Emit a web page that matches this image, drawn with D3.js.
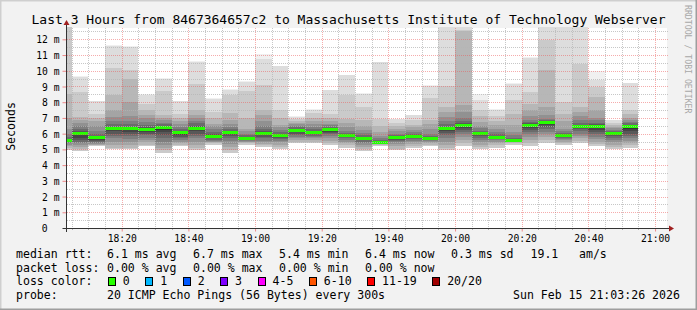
<!DOCTYPE html>
<html>
<head>
<meta charset="utf-8">
<script src="https://cdn.jsdelivr.net/npm/d3@7"></script>
<style>
  body { margin: 0; background: #f2f2f2; }
  svg { display: block; font-family: 'DejaVu Sans Mono', monospace; }
</style>
</head>
<body>
<svg id="chart" width="697" height="310"></svg>
<script>
// 5 minute slots (start time, UTC) and the 20 sorted ping rtts (ms) of each slot
const slotStart = [
  '18:00', '18:05', '18:10', '18:15', '18:20', '18:25', '18:30', '18:35', '18:40', '18:45', '18:50', '18:55',
  '19:00', '19:05', '19:10', '19:15', '19:20', '19:25', '19:30', '19:35', '19:40', '19:45', '19:50', '19:55',
  '20:00', '20:05', '20:10', '20:15', '20:20', '20:25', '20:30', '20:35', '20:40', '20:45', '20:50'
];
const pings = [
  [4.95, 5.1, 5.2, 5.3, 5.4, 5.45, 5.5, 5.52, 5.55, 5.57, 5.58, 5.65, 5.8, 6.0, 6.3, 7.0, 8.5, 13.0, 13.5, 14.0],
  [4.87, 5.0, 5.15, 5.3, 5.4, 5.5, 5.6, 5.75, 5.9, 6.0, 6.08, 6.15, 6.3, 6.5, 6.7, 6.9, 7.06, 8.65, 9.6, 9.65],
  [5.2, 5.25, 5.3, 5.35, 5.4, 5.45, 5.55, 5.62, 5.68, 5.72, 5.76, 5.85, 6.0, 6.2, 6.5, 6.8, 7.0, 7.23, 8.05, 8.1],
  [5.0, 5.1, 5.3, 5.5, 5.7, 5.85, 6.0, 6.15, 6.25, 6.3, 6.34, 6.45, 6.6, 6.8, 7.06, 7.48, 8.48, 10.18, 11.6, 11.65],
  [5.0, 5.1, 5.25, 5.45, 5.65, 5.85, 6.0, 6.12, 6.22, 6.3, 6.34, 6.45, 6.6, 6.8, 7.1, 8.0, 9.48, 10.03, 11.5, 11.55],
  [5.2, 5.3, 5.45, 5.6, 5.75, 5.9, 6.0, 6.1, 6.18, 6.23, 6.27, 6.4, 6.55, 6.75, 7.0, 7.2, 7.48, 7.9, 8.48, 8.52],
  [4.8, 4.95, 5.1, 5.3, 5.5, 5.7, 5.9, 6.1, 6.25, 6.38, 6.42, 6.5, 6.6, 6.7, 6.85, 7.0, 7.16, 8.7, 9.5, 9.55],
  [5.2, 5.3, 5.4, 5.5, 5.6, 5.7, 5.8, 5.9, 6.0, 6.05, 6.1, 6.2, 6.3, 6.45, 6.6, 6.8, 7.0, 7.27, 8.05, 8.1],
  [4.95, 5.1, 5.3, 5.5, 5.7, 5.85, 6.0, 6.15, 6.25, 6.32, 6.36, 6.5, 6.65, 6.8, 7.0, 7.16, 7.52, 9.18, 10.56, 10.6],
  [5.3, 5.4, 5.45, 5.5, 5.55, 5.62, 5.7, 5.75, 5.8, 5.83, 5.85, 5.95, 6.1, 6.3, 6.5, 6.63, 7.0, 7.38, 8.22, 8.25],
  [4.75, 4.95, 5.15, 5.35, 5.55, 5.7, 5.85, 5.95, 6.02, 6.06, 6.1, 6.2, 6.3, 6.45, 6.6, 6.85, 7.3, 8.44, 8.8, 8.85],
  [5.3, 5.4, 5.45, 5.5, 5.55, 5.6, 5.63, 5.66, 5.68, 5.69, 5.71, 5.8, 5.9, 6.0, 6.15, 6.32, 7.0, 8.69, 9.31, 9.35],
  [5.15, 5.25, 5.35, 5.45, 5.55, 5.7, 5.8, 5.9, 5.97, 6.02, 6.06, 6.15, 6.3, 6.5, 6.8, 7.16, 7.52, 9.1, 10.77, 11.04],
  [5.0, 5.15, 5.3, 5.45, 5.55, 5.65, 5.72, 5.78, 5.83, 5.86, 5.9, 6.0, 6.1, 6.25, 6.4, 6.53, 7.0, 7.52, 10.28, 10.3],
  [5.4, 5.5, 5.6, 5.7, 5.8, 5.9, 6.0, 6.08, 6.15, 6.2, 6.23, 6.3, 6.4, 6.5, 6.6, 6.7, 6.8, 6.95, 7.06, 7.1],
  [5.4, 5.5, 5.6, 5.7, 5.8, 5.88, 5.95, 6.0, 6.04, 6.07, 6.1, 6.2, 6.3, 6.45, 6.6, 6.8, 7.02, 7.3, 7.52, 7.55],
  [5.3, 5.4, 5.55, 5.7, 5.85, 5.95, 6.05, 6.12, 6.2, 6.24, 6.27, 6.35, 6.45, 6.55, 6.63, 6.8, 7.0, 7.27, 8.76, 8.8],
  [5.1, 5.25, 5.4, 5.5, 5.6, 5.7, 5.77, 5.82, 5.85, 5.87, 5.89, 5.95, 6.05, 6.2, 6.4, 6.7, 6.95, 8.44, 9.71, 9.75],
  [4.87, 5.0, 5.15, 5.3, 5.4, 5.5, 5.58, 5.63, 5.67, 5.69, 5.71, 5.8, 5.9, 6.05, 6.25, 6.5, 6.9, 7.7, 8.54, 8.58],
  [5.2, 5.28, 5.33, 5.38, 5.41, 5.43, 5.44, 5.45, 5.46, 5.47, 5.48, 5.52, 5.6, 5.7, 5.85, 6.1, 6.5, 6.95, 10.54, 10.58],
  [4.93, 5.05, 5.2, 5.35, 5.45, 5.55, 5.62, 5.67, 5.71, 5.73, 5.75, 5.82, 5.9, 6.0, 6.15, 6.3, 6.5, 6.7, 6.93, 6.96],
  [5.1, 5.2, 5.35, 5.45, 5.55, 5.65, 5.72, 5.77, 5.8, 5.82, 5.84, 5.9, 6.0, 6.1, 6.25, 6.4, 6.53, 6.9, 7.16, 7.2],
  [5.2, 5.3, 5.4, 5.48, 5.55, 5.6, 5.63, 5.65, 5.67, 5.68, 5.69, 5.75, 5.85, 6.0, 6.3, 6.6, 6.85, 8.27, 9.05, 9.1],
  [4.98, 5.1, 5.3, 5.5, 5.7, 5.9, 6.05, 6.18, 6.26, 6.3, 6.34, 6.45, 6.6, 6.8, 7.05, 7.38, 7.7, 9.05, 13.0, 13.5],
  [5.2, 5.4, 5.6, 5.8, 5.95, 6.1, 6.25, 6.38, 6.47, 6.52, 6.55, 6.65, 6.8, 7.0, 7.38, 7.8, 12.5, 12.62, 13.0, 13.5],
  [5.0, 5.15, 5.3, 5.45, 5.6, 5.72, 5.82, 5.9, 5.96, 5.99, 6.01, 6.1, 6.2, 6.35, 6.5, 6.75, 7.1, 7.48, 8.16, 8.5],
  [5.1, 5.25, 5.4, 5.5, 5.58, 5.64, 5.68, 5.71, 5.73, 5.75, 5.77, 5.85, 5.95, 6.1, 6.3, 6.53, 6.8, 7.1, 7.5, 7.55],
  [5.3, 5.38, 5.44, 5.48, 5.51, 5.53, 5.54, 5.55, 5.56, 5.57, 5.58, 5.65, 5.75, 5.9, 6.1, 6.53, 7.27, 8.12, 9.16, 9.2],
  [5.2, 5.4, 5.6, 5.8, 5.95, 6.1, 6.25, 6.38, 6.46, 6.5, 6.56, 6.65, 6.75, 6.9, 7.1, 7.5, 7.91, 8.65, 10.81, 10.85],
  [5.4, 5.6, 5.8, 5.95, 6.1, 6.3, 6.45, 6.55, 6.65, 6.7, 6.74, 6.82, 6.9, 6.95, 7.2, 7.7, 10.03, 11.94, 13.0, 13.5],
  [5.3, 5.4, 5.5, 5.6, 5.68, 5.75, 5.8, 5.84, 5.86, 5.88, 5.9, 5.95, 6.05, 6.2, 6.32, 6.8, 7.27, 8.03, 13.0, 13.5],
  [5.4, 5.55, 5.7, 5.85, 6.0, 6.15, 6.28, 6.38, 6.44, 6.46, 6.48, 6.55, 6.65, 6.85, 7.1, 7.4, 7.7, 10.4, 13.0, 13.5],
  [5.2, 5.35, 5.5, 5.65, 5.8, 5.95, 6.1, 6.25, 6.4, 6.45, 6.49, 6.6, 6.7, 6.85, 7.0, 7.48, 8.33, 8.97, 9.43, 10.0],
  [5.0, 5.15, 5.3, 5.45, 5.6, 5.72, 5.82, 5.9, 5.96, 5.99, 6.01, 6.08, 6.15, 6.25, 6.35, 6.45, 6.53, 6.7, 6.85, 6.9],
  [5.1, 5.25, 5.4, 5.55, 5.7, 5.85, 6.0, 6.15, 6.3, 6.43, 6.5, 6.58, 6.65, 6.75, 6.85, 7.0, 7.27, 7.52, 9.22, 9.25]
];
const medians = [
  5.57, 6.04, 5.74, 6.32, 6.32, 6.25, 6.4, 6.06, 6.34, 5.84, 6.08, 5.7,
  6.04, 5.88, 6.21, 6.08, 6.25, 5.87, 5.7, 5.46, 5.74, 5.83, 5.68, 6.32,
  6.53, 6.0, 5.76, 5.57, 6.53, 6.72, 5.89, 6.47, 6.47, 6.0, 6.47
];

const yTickValues = [0, 1, 2, 3, 4, 5, 6, 7, 8, 9, 10, 11, 12];
const xTickLabels = ['18:20', '18:40', '19:00', '19:20', '19:40', '20:00', '20:20', '20:40', '21:00'];

const lossLabels = ['0', '1', '2', '3', '4-5', '6-10', '11-19', '20/20'];
const lossColors = ['#26ff00', '#00b8ff', '#0059ff', '#7e00ff', '#ff00ff', '#ff5500', '#ff0000', '#a00000'];

const legendRows = [
  ['median rtt:', '6.1 ms avg', '6.7 ms max', '5.4 ms min', '6.4 ms now', '0.3 ms sd', '19.1', 'am/s'],
  ['packet loss:', '0.00 % avg', '0.00 % max', '0.00 % min', '0.00 % now']
];
const probeText = '20 ICMP Echo Pings (56 Bytes) every 300s';
const stampText = 'Sun Feb 15 21:03:26 2026';
const titleText = 'Last 3 Hours from 8467364657c2 to Massachusetts Institute of Technology Webserver';

// layout
const W = 697, H = 310;
const plot = { left: 67, right: 667, top: 28, bottom: 228 };
const legendCols = [16, 107, 193, 279, 365, 451, 530.5, 579];
const legendY = [257.7, 271.5, 285.3, 299];
const legendFont = 11.55, axisFont = 9.7;

const day = (hm) => {
  const [h, m] = hm.split(':').map(Number);
  return new Date(Date.UTC(2026, 1, 15, h, m, 0));
};

const x = d3.scaleUtc()
  .domain([new Date(Date.UTC(2026, 1, 15, 18, 3, 35)), new Date(Date.UTC(2026, 1, 15, 21, 3, 35))])
  .range([plot.left, plot.right]);
const y = d3.scaleLinear()
  .domain([0, 12.72])
  .range([plot.bottom, plot.top]);
const yMax = y.domain()[1];

const svg = d3.select('#chart');

// frame and background
svg.append('rect').attr('width', W).attr('height', H).attr('fill', '#f2f2f2');
svg.append('path').attr('d', `M0,${H} V0 H${W}`).attr('fill', 'none').attr('stroke', '#cfcfcf').attr('stroke-width', 3);
svg.append('path').attr('d', `M0,${H} H${W} V0`).attr('fill', 'none').attr('stroke', '#9e9e9e').attr('stroke-width', 3);
svg.append('rect')
  .attr('x', plot.left).attr('y', plot.top)
  .attr('width', plot.right - plot.left).attr('height', plot.bottom - plot.top)
  .attr('fill', '#ffffff');

svg.append('clipPath').attr('id', 'plotclip')
  .append('rect')
  .attr('x', plot.left).attr('y', plot.top - 1)
  .attr('width', plot.right - plot.left).attr('height', plot.bottom - plot.top + 1);

const g = svg.append('g').attr('clip-path', 'url(#plotclip)').attr('shape-rendering', 'crispEdges');

// smoke: band j lies between ping j-1 and ping j, darkest around the median
const bands = [];
pings.forEach((p, i) => {
  const t0 = day(slotStart[i]);
  const t1 = d3.utcMinute.offset(t0, 5);
  for (let j = 1; j < p.length; j++) {
    const c = Math.floor(190 / 10 * Math.abs(9 - j)) + 50;
    bands.push({
      x0: x(t0), x1: x(t1),
      lo: Math.min(p[j - 1], yMax + 1), hi: Math.min(p[j], yMax + 1),
      color: d3.rgb(c, c, c).formatHex()
    });
  }
});

g.selectAll('rect.smoke')
  .data(bands)
  .join('rect')
  .attr('class', 'smoke')
  .attr('x', d => d.x0)
  .attr('width', d => d.x1 - d.x0)
  .attr('y', d => y(d.hi))
  .attr('height', d => Math.max(0, y(d.lo) - y(d.hi)))
  .attr('fill', d => d.color);

// median rtt, coloured by loss (all zero here)
g.selectAll('rect.median')
  .data(medians)
  .join('rect')
  .attr('class', 'median')
  .attr('x', (d, i) => x(day(slotStart[i])))
  .attr('width', (d, i) => x(d3.utcMinute.offset(day(slotStart[i]), 5)) - x(day(slotStart[i])))
  .attr('y', d => y(d) - 1.5)
  .attr('height', 3)
  .attr('fill', lossColors[0]);

// grid on top of the data, rrdtool style dotted lines
const grid = svg.append('g').attr('shape-rendering', 'crispEdges').attr('stroke-dasharray', '1,1');
const minorTimes = x.ticks(d3.utcMinute.every(5));
const majorTimes = xTickLabels.map(day);
const minorVals = d3.range(1, 26).map(k => k / 2).filter(v => v % 1 !== 0);

grid.selectAll('line.vminor')
  .data(minorTimes.filter(t => t.getUTCMinutes() % 20 !== 0))
  .join('line')
  .attr('x1', d => Math.round(x(d)) + 0.5).attr('x2', d => Math.round(x(d)) + 0.5)
  .attr('y1', plot.top).attr('y2', plot.bottom)
  .attr('stroke', 'rgba(180,180,180,0.75)');
grid.selectAll('line.hminor')
  .data(minorVals)
  .join('line')
  .attr('x1', plot.left).attr('x2', plot.right + 1)
  .attr('y1', d => Math.round(y(d)) + 0.5).attr('y2', d => Math.round(y(d)) + 0.5)
  .attr('stroke', 'rgba(180,180,180,0.75)');
grid.selectAll('line.vmajor')
  .data(majorTimes)
  .join('line')
  .attr('x1', d => Math.round(x(d)) + 0.5).attr('x2', d => Math.round(x(d)) + 0.5)
  .attr('y1', plot.top).attr('y2', plot.bottom)
  .attr('stroke', 'rgba(235,90,90,0.5)');
grid.selectAll('line.hmajor')
  .data(yTickValues.filter(v => v > 0))
  .join('line')
  .attr('x1', plot.left).attr('x2', plot.right + 1)
  .attr('y1', d => Math.round(y(d)) + 0.5).attr('y2', d => Math.round(y(d)) + 0.5)
  .attr('stroke', 'rgba(235,90,90,0.5)');

// axes
const fmt = d3.utcFormat('%H:%M');
const xAxis = svg.append('g')
  .attr('transform', `translate(0,${plot.bottom + 0.5})`)
  .call(d3.axisBottom(x).tickValues(majorTimes).tickFormat(fmt).tickSizeInner(3).tickSizeOuter(0).tickPadding(4));
xAxis.select('.domain').remove();
xAxis.selectAll('line').attr('stroke', 'rgba(235,90,90,0.7)');
xAxis.selectAll('text').attr('font-family', "'DejaVu Sans Mono', monospace").attr('font-size', axisFont).attr('fill', '#000');

svg.append('g').selectAll('line')
  .data(minorTimes.filter(t => t.getUTCMinutes() % 20 !== 0))
  .join('line')
  .attr('x1', d => Math.round(x(d)) + 0.5).attr('x2', d => Math.round(x(d)) + 0.5)
  .attr('y1', plot.bottom).attr('y2', plot.bottom + 2)
  .attr('stroke', '#b0b0b0');

const yAxis = svg.append('g')
  .attr('transform', `translate(${plot.left - 0.5},0)`)
  .call(d3.axisLeft(y).tickValues(yTickValues).tickFormat(d => d ? d + ' m' : '0').tickSizeInner(4).tickSizeOuter(0).tickPadding(3));
yAxis.select('.domain').remove();
yAxis.selectAll('line').attr('stroke', 'rgba(235,90,90,0.7)');
yAxis.selectAll('text').attr('font-family', "'DejaVu Sans Mono', monospace").attr('font-size', axisFont).attr('fill', '#000')
  .attr('dy', '0.37em');
yAxis.selectAll('.tick').filter(d => d === 0).select('text').attr('dx', -12);
yAxis.selectAll('.tick').filter(d => d === 0).select('line').attr('stroke', '#333');

// axis lines with arrows
const axisColor = '#333333', arrowColor = '#a02020';
svg.append('line').attr('x1', plot.left - 4).attr('x2', plot.right + 3)
  .attr('y1', plot.bottom + 0.5).attr('y2', plot.bottom + 0.5)
  .attr('stroke', axisColor).attr('shape-rendering', 'crispEdges');
svg.append('line').attr('x1', plot.left - 0.5).attr('x2', plot.left - 0.5)
  .attr('y1', plot.bottom + 4).attr('y2', plot.top - 5)
  .attr('stroke', axisColor).attr('shape-rendering', 'crispEdges');
svg.append('path')
  .attr('d', `M${plot.right + 2},${plot.bottom - 2.5} L${plot.right + 7},${plot.bottom + 0.5} L${plot.right + 2},${plot.bottom + 3.5} Z`)
  .attr('fill', arrowColor);
svg.append('path')
  .attr('d', `M${plot.left - 3.5},${plot.top - 3} L${plot.left - 0.5},${plot.top - 8} L${plot.left + 2.5},${plot.top - 3} Z`)
  .attr('fill', arrowColor);

// title and side labels
svg.append('text')
  .attr('x', W / 2).attr('y', 24)
  .attr('text-anchor', 'middle')
  .attr('font-size', 13)
  .attr('fill', '#000')
  .text(titleText);

svg.append('text')
  .attr('transform', 'translate(15,126.5) rotate(-90)')
  .attr('text-anchor', 'middle')
  .attr('font-size', legendFont)
  .attr('fill', '#000')
  .text('Seconds');

svg.append('text')
  .attr('transform', 'translate(684.5,5) rotate(90)')
  .attr('font-size', 8.2)
  .attr('fill', '#a8a8a8')
  .text('RRDTOOL / TOBI OETIKER');

// legend
const legend = svg.append('g').attr('font-size', legendFont).attr('fill', '#000');
legendRows.forEach((row, r) => {
  legend.selectAll(null)
    .data(row)
    .join('text')
    .attr('x', (d, i) => legendCols[i])
    .attr('y', legendY[r])
    .text(d => d);
});

legend.append('text').attr('x', legendCols[0]).attr('y', legendY[2]).text('loss color:');
const charW = 6.93;
let bx = 108.5;
lossLabels.forEach((lab, i) => {
  legend.append('rect')
    .attr('x', bx).attr('y', legendY[2] - 8.3)
    .attr('width', 7).attr('height', 8)
    .attr('fill', lossColors[i])
    .attr('stroke', '#000').attr('stroke-width', 1)
    .attr('shape-rendering', 'crispEdges');
  legend.append('text').attr('x', bx + 14.3).attr('y', legendY[2]).text(lab);
  bx += 30.5 + charW * lab.length;
});

legend.append('text').attr('x', legendCols[0]).attr('y', legendY[3]).text('probe:');
legend.append('text').attr('x', legendCols[1]).attr('y', legendY[3]).text(probeText);
legend.append('text').attr('x', 513).attr('y', legendY[3]).text(stampText);
</script>
</body>
</html>
